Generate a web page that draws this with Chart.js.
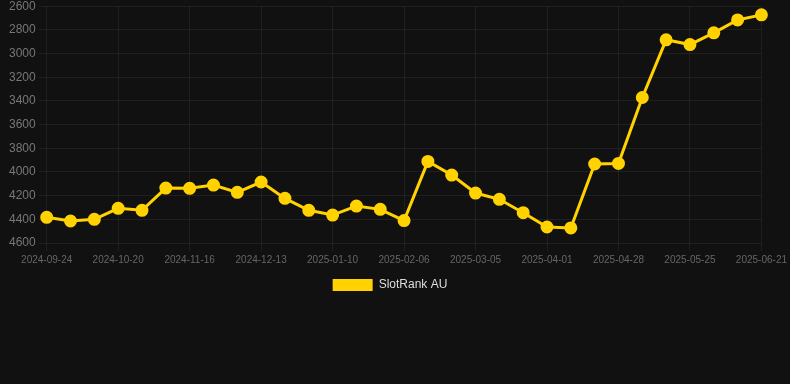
<!DOCTYPE html>
<html>
<head>
<meta charset="utf-8">
<script src="https://cdn.jsdelivr.net/npm/chart.js@4"></script>
<style>
    html, body { margin: 0; padding: 0; background: #111111; overflow: hidden; }
    #wrap { width: 790px; height: 305px; position: relative; margin-top: -4px; }
</style>
</head>
<body>
<div id="wrap"><canvas id="grafico"></canvas></div>
<script>
// Fechas (cada ~9 días)
const fechas = [
    "2024-09-24", "2024-10-02", "2024-10-11", "2024-10-20", "2024-10-29",
    "2024-11-07", "2024-11-16", "2024-11-25", "2024-12-04", "2024-12-13",
    "2024-12-22", "2024-12-31", "2025-01-10", "2025-01-19", "2025-01-28",
    "2025-02-06", "2025-02-15", "2025-02-24", "2025-03-05", "2025-03-14",
    "2025-03-23", "2025-04-01", "2025-04-10", "2025-04-19", "2025-04-28",
    "2025-05-07", "2025-05-16", "2025-05-25", "2025-06-03", "2025-06-12",
    "2025-06-21"
];

// Posición en el ranking
const ranking = [
    4383, 4414, 4400, 4307, 4324, 4136, 4138, 4111, 4172, 4085,
    4223, 4324, 4364, 4288, 4316, 4411, 3911, 4026, 4178, 4231,
    4344, 4465, 4473, 3933, 3928, 3371, 2884, 2924, 2825, 2716,
    2673
];

const etiquetaSerie = "SlotRank AU";
const yMin = 2600;
const yMax = 4600;
const yPaso = 200;

const amarillo = "#FFD200";

const ctx = document.getElementById("grafico").getContext("2d");
new Chart(ctx, {
    type: "line",
    data: {
        labels: fechas,
        datasets: [{
            label: etiquetaSerie,
            data: ranking,
            borderColor: amarillo,
            backgroundColor: amarillo,
            borderWidth: 3,
            pointRadius: 5,
            pointBackgroundColor: amarillo,
            pointBorderColor: amarillo,
            tension: 0
        }]
    },
    options: {
        responsive: true,
        maintainAspectRatio: false,
        animation: false,
        layout: { autoPadding: false, padding: { left: 0, right: 10 } },
        scales: {
            x: {
                grid: { color: "rgba(255,255,255,0.06)" },
                border: { display: false },
                ticks: {
                    color: "#666",
                    font: { family: "Liberation Sans, Arial", size: 10 },
                    maxRotation: 0,
                    autoSkip: true,
                    maxTicksLimit: 11
                }
            },
            y: {
                reverse: true,
                min: yMin,
                max: yMax,
                grid: { color: "rgba(255,255,255,0.06)" },
                border: { display: false },
                afterFit: function (escala) {
                    escala.width += 6;
                },
                ticks: {
                    stepSize: yPaso,
                    color: "#777",
                    font: { family: "Liberation Sans, Arial", size: 12 },
                    callback: function (valor) {
                        return String(valor);
                    }
                }
            }
        },
        plugins: {
            legend: {
                position: "bottom",
                labels: {
                    color: "#ddd",
                    boxWidth: 40,
                    boxHeight: 12,
                    font: { family: "Liberation Sans, Arial", size: 12 },
                    generateLabels: function (chart) {
                        const items = Chart.defaults.plugins.legend.labels.generateLabels(chart);
                        items.forEach(item => { item.lineWidth = 0; });
                        return items;
                    }
                }
            },
            tooltip: { enabled: false }
        }
    }
});
</script>
</body>
</html>
